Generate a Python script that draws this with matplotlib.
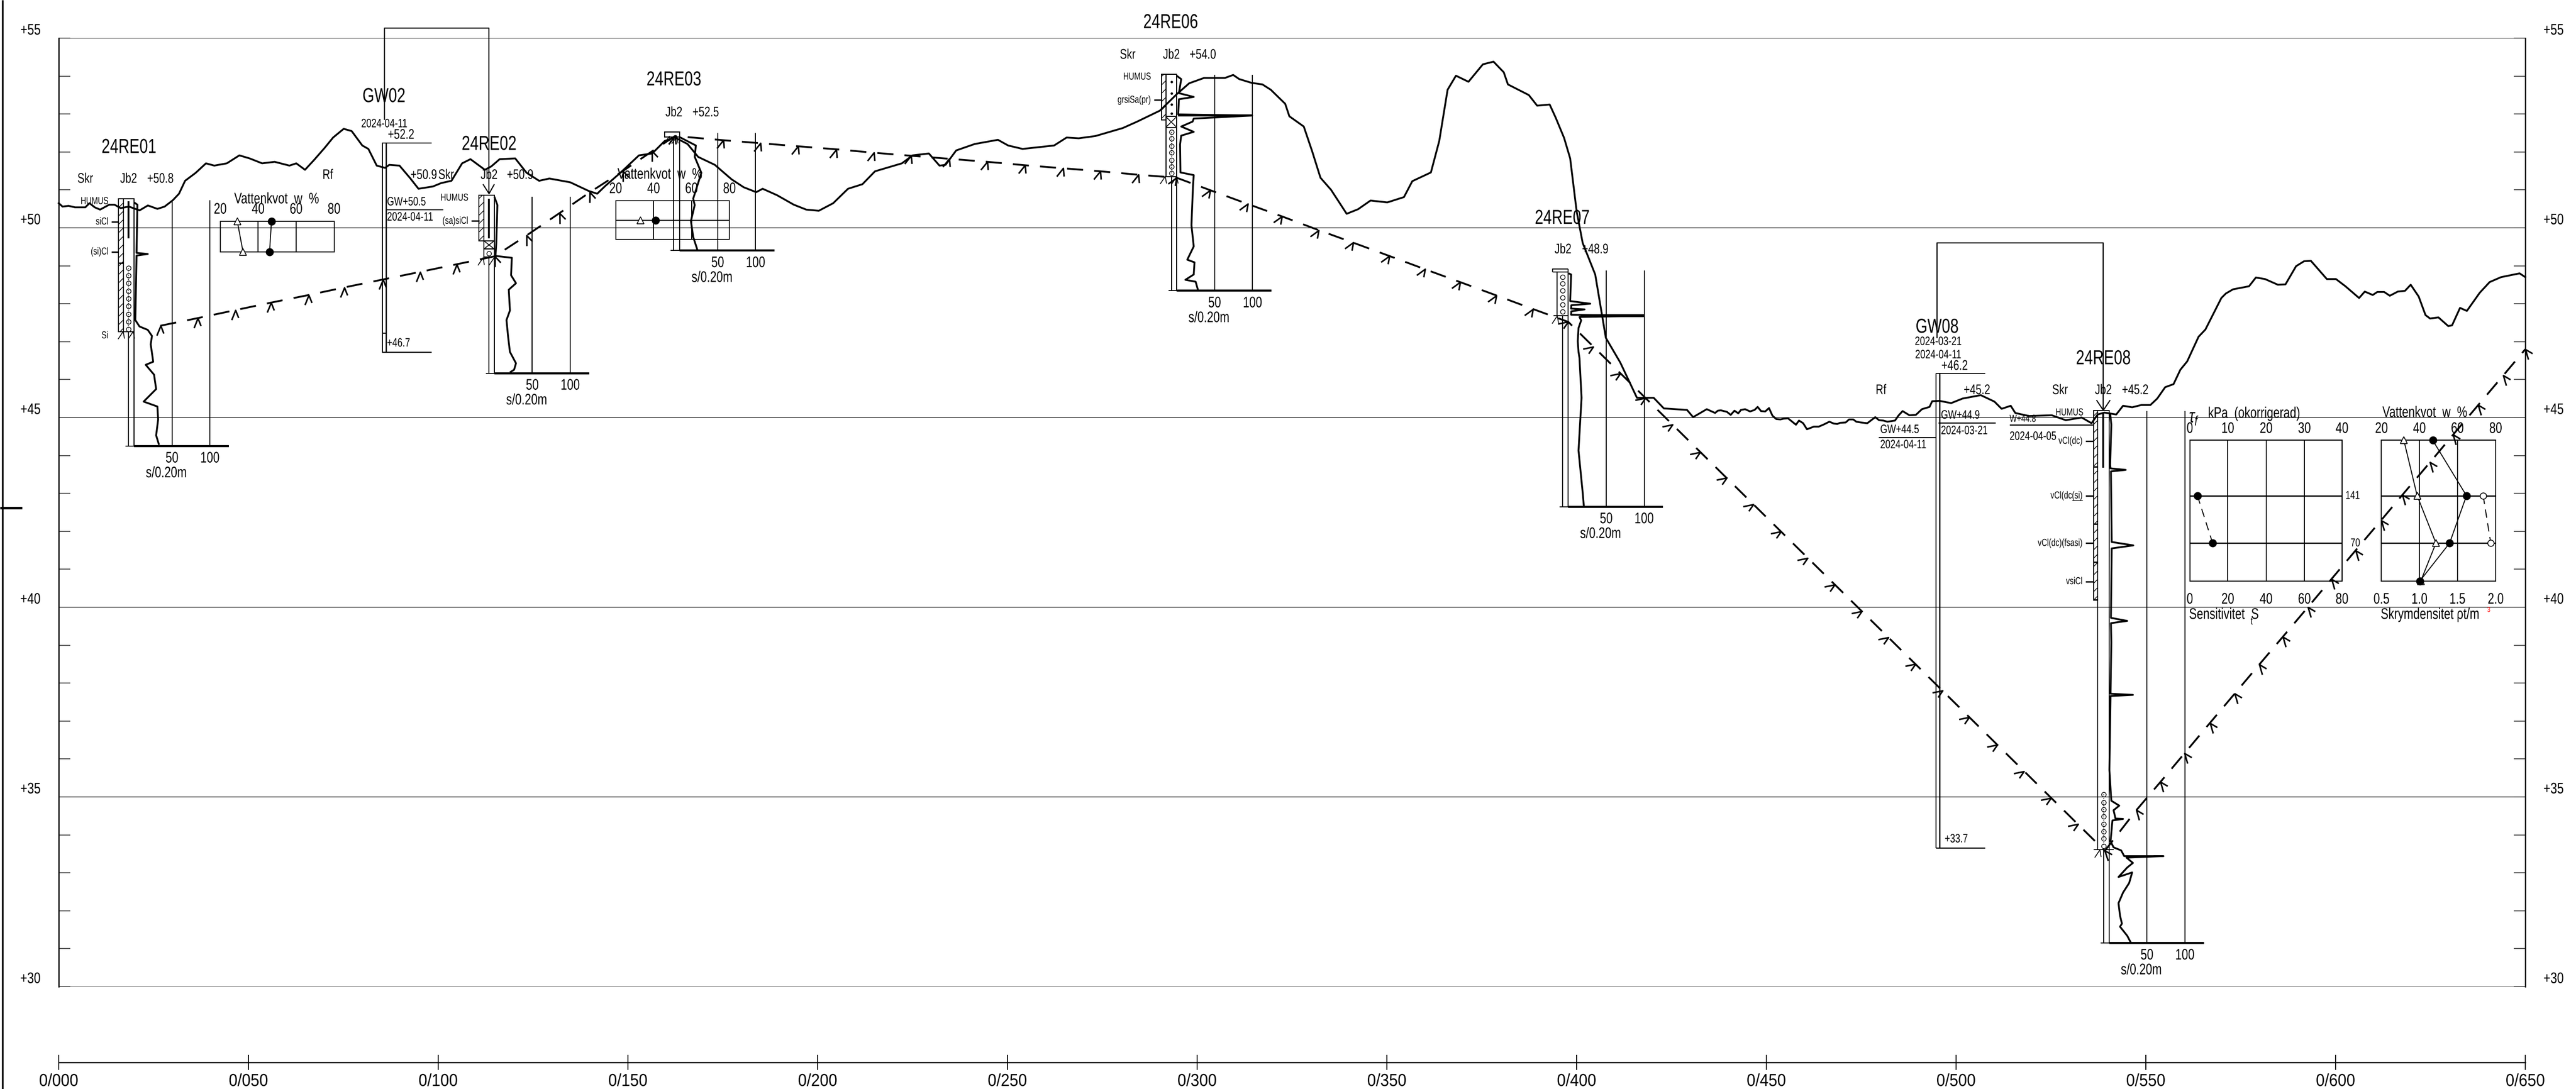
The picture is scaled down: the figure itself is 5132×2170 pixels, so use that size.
import numpy as np
import matplotlib
matplotlib.use('agg')
from matplotlib import pyplot as plt
from matplotlib.markers import MarkerStyle
from matplotlib.patches import Rectangle
from matplotlib.patheffects import AbstractPathEffect
from matplotlib.path import Path
from matplotlib.transforms import Affine2D

plt.rcParams['font.family'] = ['Liberation Sans', 'DejaVu Sans']
plt.rcParams['hatch.linewidth'] = 1.0
plt.rcParams['lines.scale_dashes'] = False
plt.rcParams['lines.dash_capstyle'] = 'butt'
plt.rcParams['mathtext.fontset'] = 'custom'
plt.rcParams['mathtext.rm'] = 'Liberation Sans'
plt.rcParams['mathtext.it'] = 'Liberation Sans:italic'

# ------------------------------- section data: (chainage m, level m) -------------------------
ground = np.array([
    (0, 50.65), (1.0, 50.56), (2.6, 50.58), (4.3, 50.54), (7.0, 50.54), (8.1, 50.65), (9.5, 50.54),
    (10.9, 50.48), (13.3, 50.61), (14.7, 50.61), (16.3, 50.52), (18.5, 50.56), (21.3, 50.46), (23.5, 50.59),
    (26.0, 50.50), (27.9, 50.56), (30.1, 50.73), (31.7, 50.90), (33.3, 51.24), (36.1, 51.45), (38.8, 51.70),
    (41.0, 51.64), (44.3, 51.70), (47.6, 51.91), (50.3, 51.83), (53.6, 51.70), (56.9, 51.74), (60.8, 51.64),
    (62.6, 51.70), (64.9, 51.53), (67.3, 51.79), (70.1, 52.11), (72.3, 52.38), (75.1, 52.61), (77.2, 52.55),
    (80.0, 52.17), (81.6, 52.08), (83.8, 51.64), (86.0, 51.58), (87.1, 51.66), (89.8, 51.64), (92.6, 51.31),
    (94.8, 51.03), (98.6, 51.09), (100.8, 51.18), (103.5, 51.24), (106.3, 51.70), (108.5, 51.81), (112.3, 51.53),
    (114.0, 51.62), (116.2, 51.81), (120.3, 51.83), (123.3, 51.45), (126.6, 51.24), (129.3, 51.30), (134.8, 51.20),
    (139.7, 50.97), (141.9, 50.90), (144.1, 51.11), (148.0, 51.45), (152.9, 51.91), (156.4, 51.96), (159.7, 52.29),
    (162.4, 52.38), (165.7, 52.21), (168.5, 51.87), (172.9, 51.66), (177.3, 51.28), (180.5, 51.07), (183.8, 50.94),
    (185.5, 51.03), (189.3, 50.86), (193.7, 50.61), (197.0, 50.48), (200.3, 50.45), (204.1, 50.65), (208.0, 51.03),
    (211.8, 51.15), (215.1, 51.49), (222.2, 51.70), (225.0, 51.91), (229.3, 51.96), (232.1, 51.64), (233.7, 51.66),
    (236.5, 52.04), (241.4, 52.21), (247.5, 52.32), (250.2, 52.17), (254.0, 52.08), (262.3, 52.17), (265.6, 52.38),
    (268.8, 52.36), (273.2, 52.42), (280.4, 52.63), (284.2, 52.80), (290.2, 53.09), (294.6, 53.52), (297.9, 53.81),
    (301.8, 53.95), (307.3, 53.95), (309.5, 54.03), (311.1, 53.92), (314.4, 53.82), (317.2, 53.78), (319.4, 53.64),
    (323.2, 53.27), (324.3, 52.94), (328.1, 52.67), (330.3, 52.02), (332.5, 51.32), (335.3, 51.00), (339.4, 50.37),
    (342.4, 50.49), (345.7, 50.72), (350.1, 50.67), (354.5, 50.81), (356.7, 51.23), (361.6, 51.46), (363.8, 52.29),
    (366.0, 53.64), (368.2, 54.01), (371.5, 53.85), (375.3, 54.31), (378.1, 54.38), (380.8, 54.10), (381.9, 53.78),
    (387.4, 53.50), (389.6, 53.22), (392.9, 53.25), (394.5, 52.90), (396.7, 52.37), (398.3, 51.83), (400.0, 50.44),
    (401.6, 49.60), (404.9, 48.77), (407.7, 47.10), (411.5, 46.45), (415.9, 45.52), (420.3, 45.52), (423.0, 45.24),
    (429.1, 45.20), (430.7, 45.01), (434.3, 45.22), (436.5, 45.12), (437.2, 45.18), (438.0, 45.19), (439.6, 45.15),
    (440.6, 45.07), (441.6, 45.18), (442.6, 45.11), (443.3, 45.20), (444.4, 45.22), (445.7, 45.16), (446.9, 45.20),
    (447.7, 45.28), (448.6, 45.17), (449.7, 45.16), (450.7, 45.25), (451.6, 45.05), (452.6, 44.96), (453.7, 44.95),
    (454.6, 44.97), (455.7, 44.98), (456.8, 44.89), (457.8, 44.81), (458.6, 44.92), (459.7, 44.85), (460.7, 44.69),
    (462.5, 44.76), (463.8, 44.76), (465.2, 44.82), (466.6, 44.89), (467.8, 44.84), (468.7, 44.83), (469.4, 44.86),
    (470.9, 44.87), (471.8, 44.95), (472.9, 44.95), (473.7, 44.89), (474.9, 44.87), (476.6, 44.85), (478.7, 45.01),
    (479.7, 44.93), (480.8, 44.92), (481.9, 44.89), (483.9, 44.92), (484.8, 45.05), (485.9, 45.17), (487.7, 45.06),
    (489.4, 45.07), (491.0, 45.22), (493.0, 45.28), (493.7, 45.43), (495.6, 45.44), (498.7, 45.38), (501.7, 45.50),
    (506.5, 45.59), (510.1, 45.42), (512.0, 45.23), (514.4, 45.31), (515.6, 45.12), (519.2, 45.04), (525.2, 45.06),
    (528.9, 44.93), (533.1, 45.00), (535.7, 44.85), (537.3, 45.08), (539.1, 45.13), (542.2, 45.08), (544.0, 45.31),
    (546.4, 45.27), (548.8, 45.33), (551.2, 45.33), (553.0, 45.50), (555.1, 45.80), (557.3, 45.88), (559.1, 46.26),
    (560.9, 46.48), (563.9, 47.13), (565.7, 47.32), (569.9, 48.15), (571.1, 48.27), (573.0, 48.38), (577.2, 48.46),
    (579.0, 48.69), (581.4, 48.65), (584.8, 48.50), (586.8, 48.51), (589.6, 48.99), (591.7, 49.12), (593.5, 49.13),
    (597.7, 48.65), (600.1, 48.65), (602.6, 48.46), (606.2, 48.15), (607.7, 48.32), (609.8, 48.23), (611.0, 48.31),
    (612.8, 48.31), (614.3, 48.21), (616.4, 48.32), (618.3, 48.34), (619.8, 48.50), (621.9, 48.19), (623.7, 47.70),
    (624.9, 47.61), (627.1, 47.64), (629.7, 47.41), (630.7, 47.43), (632.8, 47.89), (634.6, 47.81), (638.0, 48.29),
    (640.6, 48.57), (643.6, 48.70), (648.5, 48.80), (650.0, 48.70)])

# rock surface, one vertex per rock symbol
rock = np.array([
    (26.8, 47.42), (36.6, 47.62), (46.5, 47.83), (56.0, 48.03), (65.9, 48.23), (75.3, 48.43), (85.5, 48.64),
    (95.3, 48.84), (104.9, 49.04), (114.9, 49.25), (123.3, 49.80), (132.0, 50.39), (140.0, 50.94), (148.7, 51.50),
    (156.4, 52.02), (162.4, 52.42), (175.1, 52.31), (184.9, 52.23), (194.8, 52.15), (204.9, 52.07), (214.8, 51.98),
    (224.6, 51.90), (234.6, 51.82), (244.7, 51.74), (254.6, 51.65), (264.7, 51.57), (274.5, 51.49), (284.5, 51.40),
    (294.6, 51.32), (303.5, 50.99), (313.3, 50.63), (322.4, 50.30), (332.0, 49.94), (341.1, 49.61), (350.6, 49.26),
    (360.0, 48.91), (369.3, 48.57), (378.8, 48.22), (388.5, 47.86), (397.8, 47.52), (404.4, 46.87), (411.5, 46.17),
    (418.1, 45.52), (425.2, 44.82), (432.6, 44.09), (439.5, 43.41), (446.6, 42.71), (453.8, 42.00), (460.9, 41.30),
    (468.0, 40.60), (475.1, 39.90), (482.2, 39.20), (489.3, 38.50), (496.4, 37.80), (503.5, 37.10), (510.8, 36.38),
    (517.9, 35.68), (525.0, 34.98), (532.1, 34.28), (539.2, 33.58), (547.5, 34.65), (553.9, 35.40), (560.2, 36.15),
    (566.9, 36.95), (573.4, 37.72), (579.9, 38.49), (586.1, 39.22), (592.7, 40.00), (598.9, 40.74), (605.3, 41.50),
    (612.0, 42.29), (617.6, 42.96), (624.9, 43.82), (631.0, 44.55), (637.6, 45.33), (644.2, 46.11), (650.0, 46.80)])

# penetration curves
re01_curve = np.array([
    (19.85, 50.67), (20.73, 50.61), (20.51, 49.34), (23.47, 49.31), (20.51, 49.27), (20.18, 47.57), (21.28, 47.40),
    (23.47, 47.31), (24.57, 47.15), (24.24, 46.93), (24.9, 46.47), (22.92, 46.39), (25.12, 46.13), (25.67, 45.75),
    (22.38, 45.42), (26.0, 45.29), (26.2, 44.95), (25.67, 44.53), (26.43, 44.28)])
re02_curve = np.array([
    (114.8, 50.82), (115.6, 50.60), (115.3, 49.59), (115.1, 49.26), (119.4, 49.21), (119.2, 48.75), (120.5, 48.54),
    (118.6, 48.37), (118.9, 47.82), (118.0, 47.57), (118.4, 47.15), (118.9, 46.73), (120.5, 46.43), (120.0, 46.26),
    (118.9, 46.19)])
re03_curve = np.array([
    (163.65, 52.39), (167.9, 52.17), (167.6, 51.87), (169.35, 51.45), (167.2, 50.77), (167.6, 50.6), (166.6, 50.18),
    (167.2, 49.76), (168.3, 49.42)])
re06_curve = np.array([
    (294.6, 54.01), (295.8, 53.92), (295.2, 53.55), (299.1, 53.45), (295.2, 53.39), (295.0, 52.99), (314.5, 52.96),
    (299.1, 52.88), (298.8, 52.80), (295.8, 52.67), (299.1, 52.53), (295.8, 52.43), (295.5, 52.20), (295.6, 51.46),
    (299.1, 51.39), (298.9, 51.09), (298.5, 50.07), (299.1, 49.51), (297.4, 49.16), (299.3, 49.09), (299.1, 48.77),
    (296.9, 48.63), (299.6, 48.58), (300.2, 48.37)])
re07_curve = np.array([
    (397.9, 48.80), (398.55, 48.77), (398.3, 48.07), (403.6, 48.00), (398.6, 47.96), (398.55, 47.87), (402.1, 47.85),
    (398.6, 47.80), (398.55, 47.71), (417.7, 47.68), (400.75, 47.65), (401.2, 47.56), (400.5, 47.36), (400.3, 47.01),
    (400.5, 46.73), (400.75, 46.57), (401.3, 45.52), (400.5, 44.13), (401.6, 43.02), (401.9, 42.67)])
re08_curve = np.array([
    (540.6, 45.12), (540.9, 44.81), (540.6, 43.75), (540.7, 43.66), (544.7, 43.62), (540.8, 43.58), (541.0, 41.72),
    (546.7, 41.63), (541.0, 41.55), (540.8, 39.72), (545.1, 39.64), (540.8, 39.58), (540.9, 39.07), (540.7, 37.72),
    (546.6, 37.69), (540.7, 37.66), (540.4, 35.71), (540.9, 34.90), (543.0, 34.77), (541.5, 34.65), (542.0, 34.43),
    (544.0, 34.42), (541.2, 34.38), (540.7, 33.83), (541.5, 33.67), (543.5, 33.59), (544.3, 33.44), (554.65, 33.44),
    (544.9, 33.40), (546.6, 33.26), (545.1, 33.14), (542.8, 32.89), (546.4, 33.01), (545.6, 32.73), (544.0, 32.48),
    (542.8, 32.20), (543.2, 31.87), (543.7, 31.66), (543.2, 31.58), (545.1, 31.34), (546.1, 31.15)])

# sample levels in the columns
re01_samples = [48.94, 48.74, 48.54, 48.33, 48.13, 47.93, 47.73, 47.52, 47.33]
re06_samples = [52.53, 52.35, 52.16, 51.98, 51.79, 51.61, 51.44]
re07_samples = [48.70, 48.53, 48.34, 48.16, 47.98, 47.79]
re08_samples = [35.06, 34.86, 34.67, 34.48, 34.28, 34.09, 33.90, 33.71]
re06_dots = [53.85, 53.55, 53.25, 53.02]

stop_x = [16.9, 19.6, 111.8, 114.7, 160.8, 162.8, 291.5, 294.6, 394.8, 537.8]
stop_y = [47.28, 47.28, 49.22, 49.22, 52.42, 52.42, 51.36, 51.36, 47.68, 33.61]

# lab results
re01_levels = [50.17, 49.37]
re01_w_plastic = [29, 32]
re01_w_natural = [47, 46]
re03_level = [50.20]
re03_w_plastic = [33]
re03_w_natural = [41]
lab_levels = [44.40, 42.94, 41.69, 40.69]
lab_w_plastic = [31.8, 38.8, 48.7, 40.7]
lab_w_natural = [47.0, 64.8, 55.9, 40.2]
density_levels = [42.94, 41.69]
density_values = [1.84, 1.94]
sens_levels = [42.94, 41.69]
sens_values = [4, 12]
sens_labels = ['141', '70']

chainage_ticks = np.arange(0, 651, 50)
chainage_labels = ['0/%03d' % c for c in chainage_ticks]
level_ticks = [30, 35, 40, 45, 50, 55]
level_labels = ['+%d' % l for l in level_ticks]
w_ticks = [20, 40, 60, 80]

BLOW_SCALE = 0.2     # chainage m per blow in the penetration columns
BIG, MID, DATE, SMALL, SCALE = 29, 20, 17.5, 14.5, 22
VERT_EXAGGERATION = 10

fig = plt.figure(figsize=(51.32, 21.70), dpi=100)
ax = fig.add_axes([117 / 5132, 1 - 1966 / 2170, (5031 - 117) / 5132, (1966 - 76) / 2170])
ax.set_xlim(0, 650)
ax.set_ylim(30, 55)

ax.set_yticks(level_ticks, level_labels)
ax.set_yticks(np.arange(30, 56), minor=True)
ax.tick_params(axis='y', which='both', direction='in', length=16.5, width=1.4, color='#555555',
               left=True, right=True, labelleft=True, labelright=True, pad=26, labelsize=22)
ax.grid(axis='y', which='major', color='#555555', lw=1.4)
ax.set_axisbelow(True)
for tick in ax.yaxis.get_major_ticks():
    tick.label1.set_va('bottom')
    tick.label2.set_va('bottom')

ax.set_xticks(chainage_ticks, chainage_labels)
ax.tick_params(axis='x', direction='inout', length=22, width=1.4, pad=4, labelsize=25)
ax.spines['top'].set_visible(False)
ax.spines['left'].set_linewidth(1.8)
ax.spines['right'].set_linewidth(1.8)
ax.spines['bottom'].set_position(('data', 28))
ax.spines['bottom'].set_linewidth(1.8)


class Narrow(AbstractPathEffect):
    # squeeze a text sideways round its anchor, the drawing has a narrow CAD font
    def __init__(self, anchor, factor):
        super().__init__()
        self.anchor = anchor
        self.factor = factor

    def draw_path(self, renderer, gc, tpath, affine, rgbFace=None):
        squeeze = Affine2D().translate(-self.anchor, 0).scale(self.factor, 1).translate(self.anchor, 0)
        renderer.draw_path(gc, tpath, affine + squeeze, rgbFace)


def line(xs, ys, lw=1.4, **kw):
    ax.plot(xs, ys, color='k', lw=lw, clip_on=False, solid_capstyle='butt', **kw)


def label(x, y, s, size=MID, ha='center', color='k'):
    ax.text(x, y, s, fontsize=size, ha=ha, va='center', color=color)


def box(x0, x1, y0, y1, **kw):
    ax.add_patch(Rectangle((x0, y0), x1 - x0, y1 - y0, fill=False, ec='k', lw=1.4, clip_on=False, **kw))


def cross(x0, x1, y0, y1):
    box(x0, x1, y0, y1)
    line([x0, x1], [y0, y1], lw=1.2)
    line([x0, x1], [y1, y0], lw=1.2)


def sounding(mid, right, top, bottom, curve):
    # open hole below the column, blow count scale and penetration curve
    s50 = right + 50 * BLOW_SCALE
    s100 = right + 100 * BLOW_SCALE
    line([mid, mid], [top, bottom])
    line([right, right], [top, bottom])
    line([mid - 0.8, right], [bottom, bottom])
    line([right, right + 125 * BLOW_SCALE], [bottom, bottom], lw=3)
    line([s50, s50], [top, bottom])
    line([s100, s100], [top, bottom])
    label(s50, bottom - 0.33, '50', size=SCALE)
    label(s100, bottom - 0.33, '100', size=SCALE)
    label(s50 - 1.5, bottom - 0.72, 's/0.20m', size=SCALE)
    line(curve[:, 0], curve[:, 1], lw=2.6, solid_joinstyle='round')


def samples(x, levels, lw=0):
    ax.plot([x] * len(levels), levels, ls=':', color='k', lw=lw, marker='o', ms=6.5, mfc='none', mec='k', mew=1,
            clip_on=False)


def soil(x0, x1, y, text):
    label(x0 - 0.8, y, text, size=SMALL, ha='right')
    line([x0, x1], [y, y], lw=2)


def water_panel(x0, y0, y1, mid_y=None, header_y=None, head_x=None):
    wx = lambda w: x0 + (np.asarray(w) - 20) * 0.5
    box(x0, wx(80), y0, y1)
    for w in w_ticks:
        if w not in (20, 80):
            line([wx(w), wx(w)], [y0, y1])
        label(wx(w), y1 + 0.31, str(w), size=SCALE)
    label(head_x, header_y, 'Vattenkvot  w  %', size=SCALE)
    if mid_y is not None:
        line([x0, wx(80)], [mid_y, mid_y])
    return wx


# sheet frame
line([-14.8, -14.8], [25.3, 56.01], lw=2.5)
line([-15.48, -9.6], [42.62, 42.62], lw=3.6)

# ground and rock
ax.plot(ground[:, 0], ground[:, 1], color='k', lw=2.6, solid_joinstyle='round', clip_on=False)
rock_symbol = Path([(-0.63, -0.94), (0, 0), (0.15, -0.87)], [Path.MOVETO, Path.LINETO, Path.LINETO])
ax.plot(rock[:, 0], rock[:, 1], color='k', lw=2.6, ls=(0, (23, 16)), clip_on=False)
# the symbol follows the slope of the rock line as it is seen on the sheet
slopes = np.degrees(np.arctan(VERT_EXAGGERATION * np.diff(rock[:, 1]) / np.diff(rock[:, 0])))
for (rx, ry), angle in zip(rock, np.append(slopes, slopes[-1])):
    ax.plot(rx, ry, ls='none', marker=MarkerStyle(rock_symbol, transform=Affine2D().rotate_deg(angle)), ms=25,
            mfc='none', mec='k', mew=2.2, clip_on=False)
ax.plot(stop_x, stop_y, ls='none', marker=rock_symbol, ms=22, mfc='none', mec='k', mew=1.2, clip_on=False)

# 24RE01
label(18.5, 52.12, '24RE01', size=BIG)
label(7.0, 51.28, 'Skr')
label(18.4, 51.28, 'Jb2')
label(26.8, 51.28, '+50.8')
box(15.8, 17.0, 47.26, 50.77, hatch='//')
box(17.0, 19.85, 47.26, 50.77)
line([18.4, 18.4], [50.7, 49.72], lw=2.6)
line([15.8, 17.0], [49.07, 49.07], lw=2)
samples(18.4, re01_samples, lw=1.2)
label(13.05, 50.70, 'HUMUS', size=SMALL, ha='right')
soil(13.9, 15.8, 50.16, 'siCl')
soil(13.9, 15.8, 49.37, '(si)Cl')
label(13.05, 47.16, 'Si', size=SMALL, ha='right')
sounding(18.4, 19.85, 47.26, 44.25, re01_curve)
line([29.85, 29.85], [50.73, 47.26])
line([39.85, 39.85], [50.73, 47.26])
wx = water_panel(42.56, 49.37, 50.17, head_x=57.4, header_y=50.75)
line(wx(re01_w_plastic), re01_levels, marker='^', ms=10, mfc='white', mec='k', mew=1.2)
line(wx(re01_w_natural), re01_levels, marker='o', ms=10.5, mfc='k', mec='k')
label(70.9, 51.38, 'Rf')

# GW02
line([85.8, 85.8, 113.4, 113.4], [52.84, 55.26, 55.26, 50.9], lw=1.6)
line([111.8, 113.4, 114.8], [51.15, 50.9, 51.15], lw=1.6)
label(85.7, 53.46, 'GW02', size=BIG)
label(85.8, 52.73, '2024-04-11', size=DATE)
label(90.2, 52.44, '+52.2', size=MID)
line([85.2, 98.3], [52.23, 52.23])
line([85.3, 85.3], [52.23, 46.72])
line([86.3, 86.3], [52.23, 46.72], lw=1.8)
line([85.3, 86.3], [47.22, 47.22])
line([85.2, 98.3], [46.72, 46.72], lw=1.6)
label(86.5, 46.95, '+46.7', size=DATE, ha='left')
label(86.5, 50.67, 'GW+50.5', size=DATE, ha='left')
line([86.3, 101.3], [50.48, 50.48])
label(86.5, 50.27, '2024-04-11', size=DATE, ha='left')

# 24RE02
label(113.4, 52.2, '24RE02', size=BIG)
label(96.2, 51.38, '+50.9')
label(102.1, 51.38, 'Skr')
label(113.4, 51.38, 'Jb2')
label(121.6, 51.38, '+50.9')
box(110.7, 112.0, 49.66, 50.86, hatch='//')
box(112.0, 114.8, 49.66, 50.86)
cross(112.0, 114.8, 49.44, 49.66)
box(112.0, 114.8, 49.23, 49.44)
samples(113.4, [49.32])
line([113.4, 113.4], [50.77, 49.72], lw=2.6)
label(107.9, 50.79, 'HUMUS', size=SMALL, ha='right')
soil(108.7, 110.9, 50.18, '(sa)siCl')
sounding(113.4, 114.8, 49.23, 46.17, re02_curve)
line([124.8, 124.8], [50.82, 49.23])
line([134.8, 134.8], [50.82, 49.23])

# 24RE03
label(162.1, 53.9, '24RE03', size=BIG)
label(162.1, 53.03, 'Jb2')
label(170.5, 53.03, '+52.5')
box(159.6, 163.65, 52.39, 52.52)
sounding(162.1, 163.65, 52.39, 49.40, re03_curve)
line([173.65, 173.65], [52.5, 52.39])
line([183.65, 183.65], [52.5, 52.39])
wx = water_panel(146.76, 49.70, 50.71, mid_y=50.2, head_x=158.4, header_y=51.40)
ax.plot(wx(re03_w_plastic), re03_level, ls='none', marker='^', ms=10, mfc='white', mec='k', mew=1.2, clip_on=False)
ax.plot(wx(re03_w_natural), re03_level, ls='none', marker='o', ms=10.5, mfc='k', mec='k', clip_on=False)

# 24RE06
label(293.0, 55.41, '24RE06', size=BIG)
label(281.7, 54.55, 'Skr')
label(293.2, 54.55, 'Jb2')
label(301.5, 54.55, '+54.0')
box(290.55, 291.75, 52.84, 54.05, hatch='//')
box(291.75, 294.6, 51.35, 54.05)
cross(291.75, 294.6, 52.65, 52.93)
ax.plot([293.2] * len(re06_dots), re06_dots, ls='none', marker='o', ms=2.5, color='k')
samples(293.2, re06_samples, lw=1.2)
label(287.8, 53.98, 'HUMUS', size=SMALL, ha='right')
soil(288.6, 290.8, 53.37, 'grsiSa(pr)')
sounding(293.2, 294.6, 51.35, 48.34, re06_curve)
line([304.6, 304.6], [54.03, 51.35])
line([314.6, 314.6], [54.03, 51.35])
line([295.0, 314.6], [52.96, 52.96], lw=3)

# 24RE07
label(396.2, 50.25, '24RE07', size=BIG)
label(396.4, 49.42, 'Jb2')
label(404.9, 49.42, '+48.9')
box(394.8, 397.8, 47.68, 48.83)
line([393.7, 393.7, 397.8], [48.83, 48.91, 48.91])
line([397.8, 397.8], [48.91, 48.83])
line([393.9, 394.8], [47.68, 47.68])
line([393.7, 394.8], [48.83, 48.83])
samples(396.3, re07_samples)
sounding(396.3, 397.8, 47.68, 42.65, re07_curve)
line([407.8, 407.8], [48.88, 47.68])
line([417.8, 417.8], [48.88, 47.68])
line([401.0, 417.8], [47.68, 47.68], lw=4.2)

# GW08
line([495.0, 495.0, 538.8, 538.8], [47.09, 49.6, 49.6, 45.19], lw=1.6)
line([537.0, 538.8, 540.6], [45.46, 45.19, 45.46], lw=1.6)
label(495.0, 47.38, 'GW08', size=BIG)
label(495.3, 46.99, '2024-03-21', size=DATE)
label(495.3, 46.64, '2024-04-11', size=DATE)
label(499.6, 46.35, '+46.2')
line([494.7, 507.7], [46.16, 46.16])
line([494.7, 494.7], [46.16, 33.65])
line([495.7, 495.7], [46.16, 33.65], lw=1.8)
line([494.7, 507.7], [33.65, 33.65], lw=1.6)
label(497.0, 33.88, '+33.7', size=DATE, ha='left')
label(480.0, 44.67, 'GW+44.5', size=DATE, ha='left')
line([479.6, 494.7], [44.47, 44.47], lw=1.6)
label(480.0, 44.27, '2024-04-11', size=DATE, ha='left')
label(496.0, 45.05, 'GW+44.9', size=DATE, ha='left')
line([495.4, 510.5], [44.85, 44.85], lw=1.6)
label(496.0, 44.64, '2024-03-21', size=DATE, ha='left')
label(505.5, 45.71, '+45.2')
label(480.2, 45.71, 'Rf')

# 24RE08
label(538.8, 46.55, '24RE08', size=BIG)
label(527.4, 45.71, 'Skr')
label(538.8, 45.71, 'Jb2')
label(547.2, 45.71, '+45.2')
label(514.1, 44.96, 'W+44.8', size=SMALL, ha='left')
line([514.1, 536.1], [44.8, 44.8], lw=1.6)
label(514.1, 44.49, '2024-04-05', size=DATE, ha='left')
label(533.5, 45.13, 'HUMUS', size=SMALL, ha='right')
soil(534.1, 536.2, 44.38, 'vCl(dc)')
soil(534.1, 536.2, 42.94, 'vCl(dc(si)')
line([530.5, 533.3], [42.82, 42.82], lw=1)
soil(534.1, 536.2, 41.69, 'vCl(dc)(fsasi)')
soil(534.1, 536.2, 40.68, 'vsiCl')
box(536.3, 537.3, 40.18, 45.19, hatch='//')
box(537.3, 540.3, 33.61, 45.19)
for y in [43.71, 42.2, 41.19, 40.2]:
    line([536.3, 537.3], [y, y], lw=2)
line([538.8, 538.8], [45.11, 43.68], lw=2.6)
samples(538.85, re08_samples, lw=1.2)
line([536.3, 541.5], [33.61, 33.61])
sounding(538.85, 540.3, 33.61, 31.15, re08_curve)
line([550.3, 550.3], [45.17, 33.61])
line([560.3, 560.3], [45.17, 33.61])

# shear strength and sensitivity panel
px0, px1 = 561.6, 601.7
box(px0, px1, 40.69, 44.40)
for x, top, bottom in zip([561.6, 571.6, 581.7, 591.8, 601.7], [0, 10, 20, 30, 40], [0, 20, 40, 60, 80]):
    line([x, x], [40.69, 44.40])
    label(x, 44.70, str(top), size=SCALE)
    label(x, 40.20, str(bottom), size=SCALE)
line([px0, px1], [42.94, 42.94], lw=1.8)
line([px0, px1], [41.69, 41.69], lw=1.8)
label(561.4, 45.0, r'$\tau_f$', size=28, ha='left')
label(566.4, 45.10, 'kPa  (okorrigerad)', size=SCALE, ha='left')
label(561.4, 39.80, 'Sensitivitet  S', size=SCALE, ha='left')
label(577.6, 39.62, 't', size=15, ha='left')
ax.plot(px0 + np.array(sens_values) * 0.5, sens_levels, color='k', lw=1.4, ls=(0, (12, 8)), marker='o', ms=10.5,
        mfc='k', clip_on=False)
label(604.5, 42.94, sens_labels[0], size=SMALL + 2)
label(605.2, 41.69, sens_labels[1], size=SMALL + 2)

# water content and density panel
qx0, qx1 = 612.1, 642.2
box(qx0, qx1, 40.69, 44.40)
for x, top, bottom in zip([612.1, 622.1, 632.1, 642.2], w_ticks, ['0.5', '1.0', '1.5', '2.0']):
    line([x, x], [40.69, 44.40])
    label(x, 44.70, str(top), size=SCALE)
    label(x, 40.20, bottom, size=SCALE)
line([qx0, qx1], [42.94, 42.94], lw=1.8)
line([qx0, qx1], [41.69, 41.69], lw=1.8)
label(623.5, 45.12, 'Vattenkvot  w  %', size=SCALE)
label(611.9, 39.80, 'Skrymdensitet ρt/m', size=SCALE, ha='left')
label(640.0, 39.93, '3', size=10, ha='left', color='red')
line(qx0 + (np.array(lab_w_plastic) - 20) * 0.5, lab_levels, marker='^', ms=10, mfc='white', mec='k', mew=1.2)
line(qx0 + (np.array(lab_w_natural) - 20) * 0.5, lab_levels, marker='o', ms=10.5, mfc='k', mec='k')
ax.plot(qx0 + (np.array(density_values) - 0.5) * 20, density_levels, color='k', lw=1.4, ls=(0, (12, 8)), marker='o',
        ms=9, mfc='white', mec='k', mew=1.2, clip_on=False)

# squeeze every text once the tick labels have their final positions
fig.canvas.draw()
for t in ax.texts:
    t.set_path_effects([Narrow(t.get_transform().transform(t.get_position())[0], 0.75)])
for t in ax.get_xticklabels():
    t.set_path_effects([Narrow(t.get_transform().transform(t.get_position())[0], 0.9)])
for tick in ax.yaxis.get_major_ticks():
    for t in (tick.label1, tick.label2):
        t.set_path_effects([Narrow(t.get_transform().transform(t.get_position())[0], 0.78)])

fig.savefig('out.png', dpi=100)
